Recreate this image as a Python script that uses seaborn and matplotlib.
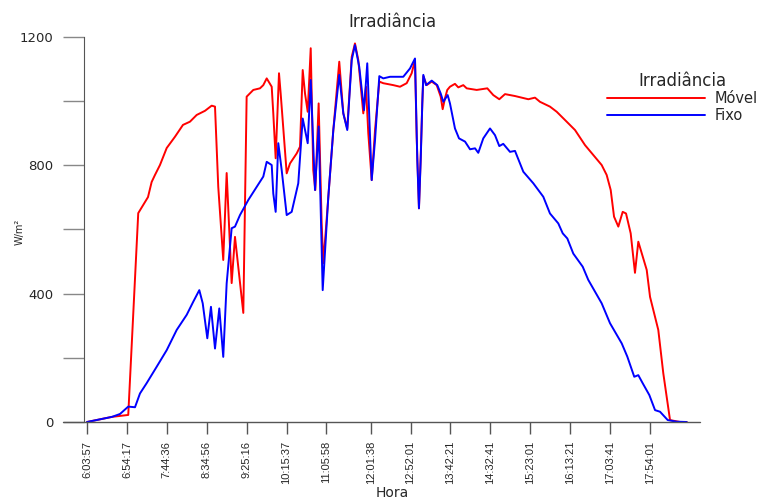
import numpy as np
import pandas as pd
import matplotlib
matplotlib.use('Agg')
import matplotlib.pyplot as plt
import seaborn as sns
from matplotlib import font_manager

# time in minutes since midnight, irradiance in W/m2
t_movel = [364.0, 395.5, 416.0, 428.6, 440.9, 445.5, 449.7, 456.0, 464.5, 474.9,
           485.0, 493.8, 502.3, 512.8, 521.2, 525.4, 529.5, 535.8, 540.1, 546.4,
           550.6, 561.1, 565.3, 573.7, 582.1, 586.3, 590.6, 596.9, 598.9, 601.9,
           606.1, 608.2, 615.8, 620.0, 628.4, 632.6, 636.0, 638.9, 642.3, 646.1,
           649.3, 651.9, 656.1, 659.9, 662.0, 668.3, 674.6, 682.1, 687.2, 692.2,
           697.8, 701.9, 706.1, 712.4, 715.8, 718.7, 723.0, 727.2, 732.6, 737.6,
           750.2, 758.7, 767.1, 773.4, 777.6, 779.7, 782.6, 784.8, 786.8, 788.1,
           792.3, 798.7, 805.0, 810.0, 812.5, 815.4, 818.3, 821.7, 828.0, 832.2,
           838.5, 842.8, 855.4, 868.8, 876.3, 883.9, 891.1, 903.7, 920.5, 928.9,
           935.2, 947.8, 956.3, 968.9, 979.4, 992.0, 1002.5, 1013.0, 1019.3, 1024.4,
           1028.6, 1034.0, 1039.5, 1043.7, 1049.6, 1055.0, 1059.2, 1069.8, 1074.0, 1084.4,
           1090.7, 1099.2, 1111.8, 1120.2]
movel = [0, 16, 22, 651, 701, 748, 770, 801, 854, 889,
         926, 936, 957, 970, 986, 983, 733, 505, 776, 433,
         577, 340, 1014, 1035, 1040, 1050, 1071, 1045, 962, 822,
         1087, 1024, 775, 806, 837, 858, 1097, 1024, 967, 1165,
         785, 723, 993, 619, 495, 701, 910, 1123, 962, 915,
         1138, 1180, 1128, 962, 1045, 900, 754, 910, 1061, 1056,
         1050, 1045, 1056, 1087, 1128, 889, 666, 827, 993, 1078,
         1050, 1061, 1050, 1014, 975, 1009, 1035, 1045, 1054, 1043,
         1050, 1040, 1035, 1040, 1019, 1006, 1022, 1016, 1006, 1011,
         998, 983, 967, 936, 910, 863, 832, 801, 770, 723,
         640, 609, 655, 650, 588, 465, 562, 474, 390, 287,
         152, 6, 0, 0]

t_fixo = [364.0, 395.5, 405.6, 416.0, 424.5, 430.8, 439.2, 451.8, 464.5, 477.1,
          489.7, 498.0, 505.6, 509.9, 515.7, 520.3, 525.4, 530.8, 535.8, 540.1,
          546.4, 550.6, 556.9, 567.4, 578.0, 586.3, 590.6, 596.9, 598.9, 601.9,
          605.2, 609.5, 615.8, 622.1, 630.4, 636.0, 642.3, 646.1, 651.5, 656.1,
          661.2, 668.3, 674.6, 682.1, 687.2, 692.2, 697.8, 701.9, 707.3, 713.3,
          717.4, 723.0, 727.2, 732.6, 737.6, 746.1, 762.8, 771.3, 777.6, 780.5,
          782.6, 784.8, 786.8, 788.1, 791.5, 798.7, 805.7, 810.0, 813.3, 818.8,
          821.7, 828.0, 833.1, 840.7, 847.0, 853.3, 857.4, 863.7, 872.2, 878.5,
          883.9, 888.9, 897.4, 903.7, 914.2, 926.8, 939.4, 947.8, 958.3, 963.9,
          969.7, 977.2, 989.1, 996.1, 1013.0, 1023.5, 1038.3, 1045.3, 1054.1, 1059.2,
          1064.7, 1073.1, 1080.3, 1086.6, 1096.3, 1107.6, 1120.2]
fixo = [0, 16, 25, 48, 46, 89, 121, 172, 224, 287,
        334, 375, 411, 370, 261, 359, 229, 354, 203, 432,
        604, 609, 645, 692, 733, 765, 811, 801, 712, 655,
        869, 785, 645, 655, 744, 946, 869, 1066, 723, 921,
        411, 702, 910, 1082, 962, 910, 1128, 1175, 1107, 972,
        1118, 754, 879, 1078, 1071, 1076, 1076, 1102, 1133, 817,
        666, 817, 993, 1082, 1050, 1064, 1050, 1024, 998, 1019,
        993, 915, 884, 874, 850, 853, 839, 884, 915, 894,
        860, 867, 842, 845, 780, 744, 702, 650, 619, 588,
        572, 525, 484, 443, 370, 308, 245, 204, 141, 146,
        121, 84, 37, 32, 6, 1, 0]

hora_ticks = ['6:03:57', '6:54:17', '7:44:36', '8:34:56', '9:25:16', '10:15:37',
              '11:05:58', '12:01:38', '12:52:01', '13:42:21', '14:32:41',
              '15:23:01', '16:13:21', '17:03:41', '17:54:01']
y_ticks = [0, 200, 400, 600, 800, 1000, 1200]
y_labels = ['0', '', '400', '', '800', '', '1200']

df = pd.concat([
    pd.DataFrame({'Hora': t_movel, 'Irradiancia': movel, 'Serie': 'Móvel'}),
    pd.DataFrame({'Hora': t_fixo, 'Irradiancia': fixo, 'Serie': 'Fixo'}),
], ignore_index=True)

sns.set_style('ticks')
plt.rcParams['font.family'] = ['DejaVu Sans']

names = {f.name for f in font_manager.fontManager.ttflist}
if 'Liberation Sans Narrow' in names:
    xfont, xsize = 'Liberation Sans Narrow', 9
else:
    xfont, xsize = 'Liberation Sans', 8

fig = plt.figure(figsize=(7.68, 5), dpi=100)
ax = fig.add_axes([84 / 768, 78 / 500, 616 / 768, 385 / 500])

sns.lineplot(data=df, x='Hora', y='Irradiancia', hue='Serie',
             hue_order=['Móvel', 'Fixo'], palette={'Móvel': '#FF0000', 'Fixo': '#0000FF'},
             estimator=None, errorbar=None, linewidth=1.4, ax=ax)

ax.set_xlim(360.2, 1137.0)
ax.set_ylim(0, 1200)

def to_min(s):
    h, m, sec = s.split(':')
    return int(h) * 60 + int(m) + int(sec) / 60

ax.set_xticks([to_min(s) for s in hora_ticks])
ax.set_xticklabels(hora_ticks, rotation=90, family=xfont, fontsize=xsize)
ax.set_yticks(y_ticks)
ax.set_yticklabels(y_labels, fontsize=9.5)

for s in ['top', 'right', 'bottom']:
    ax.spines[s].set_visible(False)
ax.spines['left'].set_color('#555555')
ax.axhline(0, xmin=-0.034, xmax=1.0, color='#555555', lw=1.0, clip_on=False)
ax.tick_params(axis='x', length=8.5, width=1.0, color='#555555', pad=5)
ax.tick_params(axis='y', length=15, width=1.0, color='#888888', pad=7)

ax.set_title('Irradiância', fontsize=12, pad=7)
ax.set_ylabel('W/m²', fontsize=7)
ax.yaxis.set_label_coords(-0.096, 0.494)
ax.set_xlabel('Hora', fontsize=10)
ax.xaxis.set_label_coords(0.5, -0.166)

ax.legend(title='Irradiância', title_fontsize=12, fontsize=10.5, frameon=False,
          loc='upper left', bbox_to_anchor=(607 / 768, 1 - 72 / 500),
          bbox_transform=fig.transFigure, borderpad=0, borderaxespad=0,
          handlelength=6.7, handletextpad=0.7, labelspacing=0.1)

fig.savefig('out.png', dpi=100)
